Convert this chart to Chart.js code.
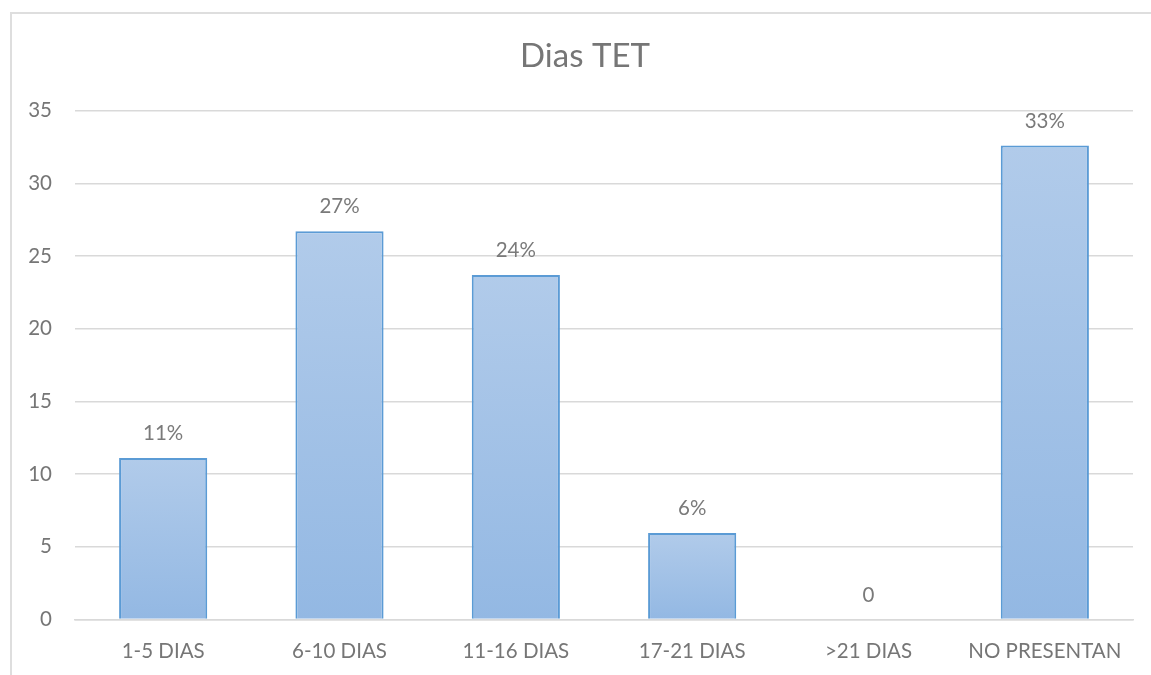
<!DOCTYPE html>
<html>
<head>
<meta charset="utf-8">
<script src="https://cdn.jsdelivr.net/npm/chart.js@4.4.1/dist/chart.umd.min.js"></script>
<style>
  html, body { margin: 0; padding: 0; background: #fff; overflow: hidden; }
  #frame { position: absolute; left: 10px; top: 12px; width: 2000px; height: 2000px;
           border-left: 2px solid #dedede; border-top: 2px solid #dedede; }
  #chart { position: absolute; left: 0; top: 0; }
</style>
</head>
<body>
<div id="frame"></div>
<canvas id="chart" width="1151" height="675"></canvas>
<script>
// datos
const categorias = ['1-5 DIAS', '6-10 DIAS', '11-16 DIAS', '17-21 DIAS', '>21 DIAS', 'NO PRESENTAN'];
const valores    = [11.1, 26.7, 23.7, 5.95, 0, 32.6];
const etiquetas  = ['11%', '27%', '24%', '6%', '0', '33%'];
const ticksY     = [0, 5, 10, 15, 20, 25, 30, 35];

const gris   = '#767676';
const borde  = '#5b9bd5';
const fuente = 'Lato, "Open Sans", sans-serif';

/* etiquetas encima de cada barra */
const etiquetasBarras = {
    id: 'etiquetasBarras',
    afterLayout(chart) {
        // centrar el título sobre el marco completo, como en el original
        if (chart.titleBlock) { chart.titleBlock.left = 19; chart.titleBlock.right = 1151; }
    },
    afterDatasetsDraw(chart) {
        const ctx = chart.ctx;
        const meta = chart.getDatasetMeta(0);
        ctx.save();
        ctx.font = '20.5px ' + fuente;
        ctx.fillStyle = '#7a7a7a';
        ctx.textAlign = 'center';
        ctx.textBaseline = 'middle';
        meta.data.forEach((bar, i) => {
            ctx.fillText(etiquetas[i], bar.x, bar.y - 24.5);
        });
        ctx.restore();
    }
};

new Chart(document.getElementById('chart'), {
    type: 'bar',
    data: {
        labels: categorias,
        datasets: [{
            data: valores,
            backgroundColor: c => {
                const chart = c.chart;
                if (!chart.chartArea) return '#9fbfe6';
                const y = chart.scales.y;
                const top = y.getPixelForValue(valores[c.dataIndex]);
                const bottom = y.getPixelForValue(0);
                if (bottom - top < 1) return '#9fbfe6';
                const g = chart.ctx.createLinearGradient(0, top, 0, bottom);
                g.addColorStop(0, '#b1cbea');
                g.addColorStop(1, '#93b8e3');
                return g;
            },
            borderColor: borde,
            borderWidth: 2,
            barPercentage: 0.5,
            categoryPercentage: 1
        }]
    },
    options: {
        responsive: false,
        animation: false,
        layout: { padding: { left: 0, right: 18, top: 0, bottom: 0 } },
        plugins: {
            legend: { display: false },
            tooltip: { enabled: false },
            title: {
                display: true,
                text: 'Dias TET',
                color: gris,
                font: { family: fuente, size: 33, weight: 'normal' },
                padding: { top: 37, bottom: 34 }
            }
        },
        scales: {
            x: {
                grid: { display: false, drawTicks: false },
                border: { color: '#d9d9d9', width: 1.5 },
                ticks: { color: gris, font: { family: fuente, size: 20.5 }, padding: 20, maxRotation: 0 },
                afterFit: s => { s.height = 675 - 619.5; }
            },
            y: {
                min: 0,
                max: 35,
                afterBuildTicks: s => { s.ticks = ticksY.map(v => ({ value: v })); },
                grid: { color: '#d9d9d9', lineWidth: 1.5, drawTicks: false },
                border: { display: false },
                ticks: { color: gris, font: { family: fuente, size: 20.5 }, padding: 23 },
                afterFit: s => { s.width = 75; }
            }
        }
    },
    plugins: [etiquetasBarras]
});
</script>
</body>
</html>
